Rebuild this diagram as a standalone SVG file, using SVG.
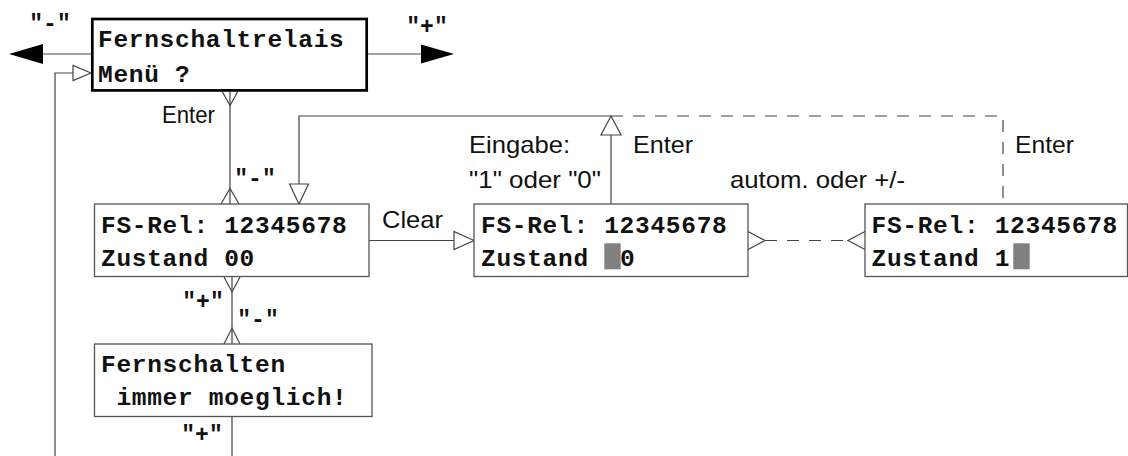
<svg xmlns="http://www.w3.org/2000/svg" width="1128" height="456" viewBox="0 0 1128 456">
<style>
.box{fill:#fff;stroke:#555;stroke-width:1.3}
.main{fill:#fff;stroke:#000;stroke-width:2.7}
.lcd{font-family:"Liberation Mono","DejaVu Sans Mono",monospace;font-weight:bold;font-size:24.5px;letter-spacing:0.7px;fill:#111;white-space:pre}
.lbl{font-family:"Liberation Sans",Arial,sans-serif;font-size:24px;fill:#111}
.key{font-family:"Liberation Mono","DejaVu Sans Mono",monospace;font-weight:bold;font-size:23px;fill:#111;text-anchor:middle}
.ln{fill:none;stroke:#444;stroke-width:1.2}
.dash{stroke-dasharray:12 10}
.open{fill:#fff;stroke:#444;stroke-width:1.2}
.hollow{fill:none;stroke:#444;stroke-width:1.2}
.solid{fill:#000}
.cur{fill:#808080}
</style>
<g id="connectors">
  <line class="ln" x1="92" y1="54" x2="43" y2="54"/>
  <polygon class="solid" points="9,54 43,44 43,64"/>
  <line class="ln" x1="368" y1="54" x2="422" y2="54"/>
  <polygon class="solid" points="454,54 421,44.5 421,63.5"/>
  <path class="ln" d="M55,456 V73 H73"/>
  <polygon class="open" points="91,73 73,65.5 73,80.5"/>
  <line class="ln" x1="230" y1="92" x2="230" y2="204"/>
  <polyline class="hollow" points="222.5,92 230,105.5 237.5,92"/>
  <polyline class="hollow" points="221,204 230,188.5 239,204"/>
  <line class="ln" x1="232" y1="277" x2="232" y2="344"/>
  <polyline class="hollow" points="224,277 232,292 240,277"/>
  <polyline class="hollow" points="224,344 232,328 240,344"/>
  <line class="ln" x1="232" y1="417" x2="232" y2="456"/>
  <line class="ln" x1="369" y1="240.5" x2="454" y2="240.5"/>
  <polygon class="open" points="474,240.5 454,231.5 454,249.5"/>
  <path class="ln" d="M611,204 V135"/>
  <polygon class="open" points="611,116 601,135 621,135"/>
  <path class="ln" d="M611,116 H299 V184"/>
  <polygon class="open" points="299,204 289.5,184 308.5,184"/>
  <path class="ln dash" d="M611,116 H1003 V204"/>
  <line class="ln dash" x1="765" y1="240.5" x2="848" y2="240.5"/>
  <polyline class="hollow" points="748,231.5 765,240.5 748,249.5"/>
  <polyline class="hollow" points="865,231.5 848,240.5 865,249.5"/>
  <text class="key" x="50" y="31">"-"</text>
  <text class="key" x="427" y="34">"+"</text>
  <text class="key" x="255" y="186">"-"</text>
  <text class="key" x="203" y="309">"+"</text>
  <text class="key" x="258" y="327">"-"</text>
  <text class="key" x="202" y="442">"+"</text>
  <text class="lbl" x="162" y="123" textLength="53" lengthAdjust="spacingAndGlyphs">Enter</text>
  <text class="lbl" x="382" y="228" textLength="61" lengthAdjust="spacingAndGlyphs">Clear</text>
  <text class="lbl" x="469" y="153" textLength="101" lengthAdjust="spacingAndGlyphs">Eingabe:</text>
  <text class="lbl" x="469" y="188" textLength="132" lengthAdjust="spacingAndGlyphs">"1" oder "0"</text>
  <text class="lbl" x="633" y="153" textLength="60" lengthAdjust="spacingAndGlyphs">Enter</text>
  <text class="lbl" x="730" y="188" textLength="175" lengthAdjust="spacingAndGlyphs">autom. oder +/-</text>
  <text class="lbl" x="1015" y="153" textLength="59" lengthAdjust="spacingAndGlyphs">Enter</text>
</g>
<g id="node-menu">
  <rect class="main" x="92.3" y="19" width="274.4" height="71.4"/>
  <text class="lcd" x="98" y="47">Fernschaltrelais</text>
  <text class="lcd" x="98" y="82">Menü ?</text>
</g>
<g id="node-state">
  <rect class="box" x="94.5" y="204" width="274.5" height="72.5"/>
  <text class="lcd" x="101" y="233">FS-Rel: 12345678</text>
  <text class="lcd" x="101" y="266">Zustand 00</text>
</g>
<g id="node-info">
  <rect class="box" x="94.5" y="344" width="277.5" height="72.5"/>
  <text class="lcd" x="101" y="372">Fernschalten</text>
  <text class="lcd" x="101" y="405"> immer moeglich!</text>
</g>
<g id="node-edit1">
  <rect class="box" x="474" y="204" width="274" height="72.5"/>
  <text class="lcd" x="481" y="233">FS-Rel: 12345678</text>
  <text class="lcd" x="481" y="266">Zustand</text>
  <rect class="cur" x="604.3" y="243.3" width="16.4" height="26"/>
  <text class="lcd" x="620" y="266">0</text>
</g>
<g id="node-edit2">
  <rect class="box" x="865" y="204" width="262.5" height="72.5"/>
  <text class="lcd" x="871.5" y="233">FS-Rel: 12345678</text>
  <text class="lcd" x="871.5" y="266">Zustand 1</text>
  <rect class="cur" x="1013.3" y="243.3" width="16.4" height="26"/>
</g>
</svg>
